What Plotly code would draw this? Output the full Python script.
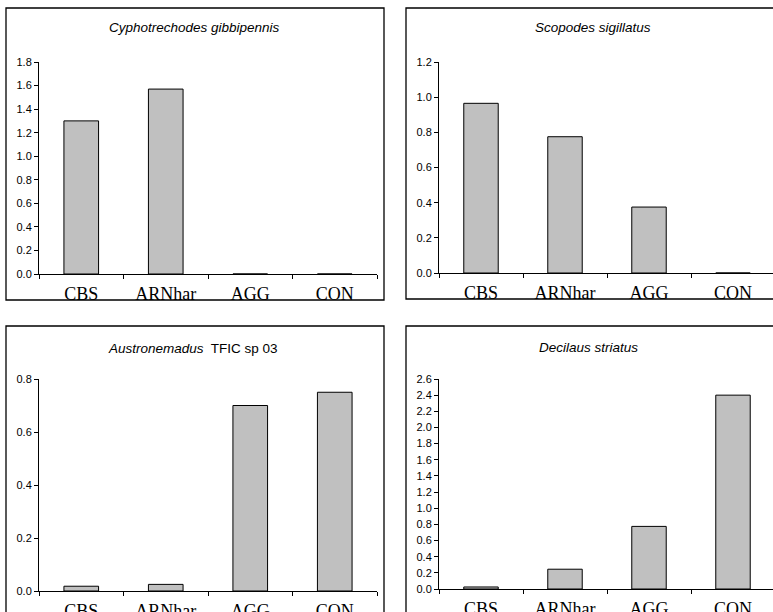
import plotly.graph_objects as go

categories = ["CBS", "ARNhar", "AGG", "CON"]
titles = ["<i>Cyphotrechodes gibbipennis</i>", "<i>Scopodes sigillatus</i>",
          "<i>Austronemadus</i>  TFIC sp 03", "<i>Decilaus striatus</i>"]
vals_cyphotrechodes = [1.30, 1.57, 0.0, 0.0]
vals_scopodes = [0.965, 0.775, 0.375, 0.0]
vals_austronemadus = [0.018, 0.025, 0.70, 0.75]
vals_decilaus = [0.025, 0.245, 0.775, 2.40]
y_max = [1.8, 1.2, 0.8, 2.6]
series = [vals_cyphotrechodes, vals_scopodes, vals_austronemadus, vals_decilaus]

W, H = 773, 612
def px(x): return x / W
def py(y): return 1 - y / H

# panel geometry in pixels: (x_left, x_right, y_zero, y_top, box)
panels = [
    dict(xl=39, xr=377, y0=274, yt=62, box=(6, 384, 8, 300), tx=195, ty=28),
    dict(xl=439, xr=775, y0=273, yt=62, box=(406, 790, 8, 299), tx=593, ty=28),
    dict(xl=39, xr=377, y0=591, yt=379, box=(6, 384, 326, 640), tx=193, ty=348),
    dict(xl=439, xr=775, y0=589, yt=379, box=(406, 790, 326, 640), tx=588, ty=347),
]

fig = go.Figure()
shapes = []
annotations = []
for i, (p, vals) in enumerate(zip(panels, series)):
    n = "" if i == 0 else str(i + 1)
    fig.add_trace(go.Bar(
        x=categories, y=vals, xaxis="x" + n, yaxis="y" + n,
        width=0.41, marker=dict(color="#C0C0C0", line=dict(color="#000000", width=1)),
        showlegend=False, hoverinfo="x+y"))
    xr_px = min(p["xr"], W)
    cat_w = (p["xr"] - p["xl"]) / 4.0
    x_hi = 3.5 - (p["xr"] - xr_px) / cat_w
    fig.layout["xaxis" + n] = dict(
        domain=[px(p["xl"]), px(xr_px)], anchor="y" + n, type="category",
        range=[-0.5, x_hi], tickson="boundaries", ticks="outside", ticklen=4,
        tickcolor="#000", tickwidth=1, showline=True, linecolor="#000", linewidth=1,
        showgrid=False, zeroline=False, fixedrange=True, ticklabelstandoff=3,
        automargin=False,
        tickfont=dict(family="Liberation Serif, Times New Roman, serif", size=18, color="#000"))
    fig.layout["yaxis" + n] = dict(
        domain=[py(p["y0"]), py(p["yt"])], anchor="x" + n,
        range=[0, y_max[i]], dtick=0.2, tick0=0, tickformat=".1f",
        ticks="outside", ticklen=4, tickcolor="#000", tickwidth=1,
        showline=True, linecolor="#000", linewidth=1, showgrid=False, zeroline=False,
        fixedrange=True, automargin=False,
        tickfont=dict(family="Liberation Sans, Arial, sans-serif", size=11, color="#000"))
    bx0, bx1, by0, by1 = p["box"]
    shapes.append(dict(type="rect", xref="paper", yref="paper",
                       x0=px(bx0), x1=px(bx1), y0=py(by1), y1=py(by0),
                       line=dict(color="#000", width=1.3), fillcolor="rgba(0,0,0,0)", layer="below"))
    annotations.append(dict(text=titles[i], xref="paper", yref="paper",
                            x=px(p["tx"]), y=py(p["ty"]), xanchor="center", yanchor="middle",
                            showarrow=False,
                            font=dict(family="Liberation Sans, Arial, sans-serif", size=13.5, color="#000")))

fig.update_layout(width=W, height=H, margin=dict(l=0, r=0, t=0, b=0, autoexpand=False),
                  paper_bgcolor="white", plot_bgcolor="white",
                  shapes=shapes, annotations=annotations, bargap=0.59)

fig.write_html("out.html", config={"displayModeBar": False},
               post_script="document.body.style.margin='0';document.body.style.overflow='hidden';")
